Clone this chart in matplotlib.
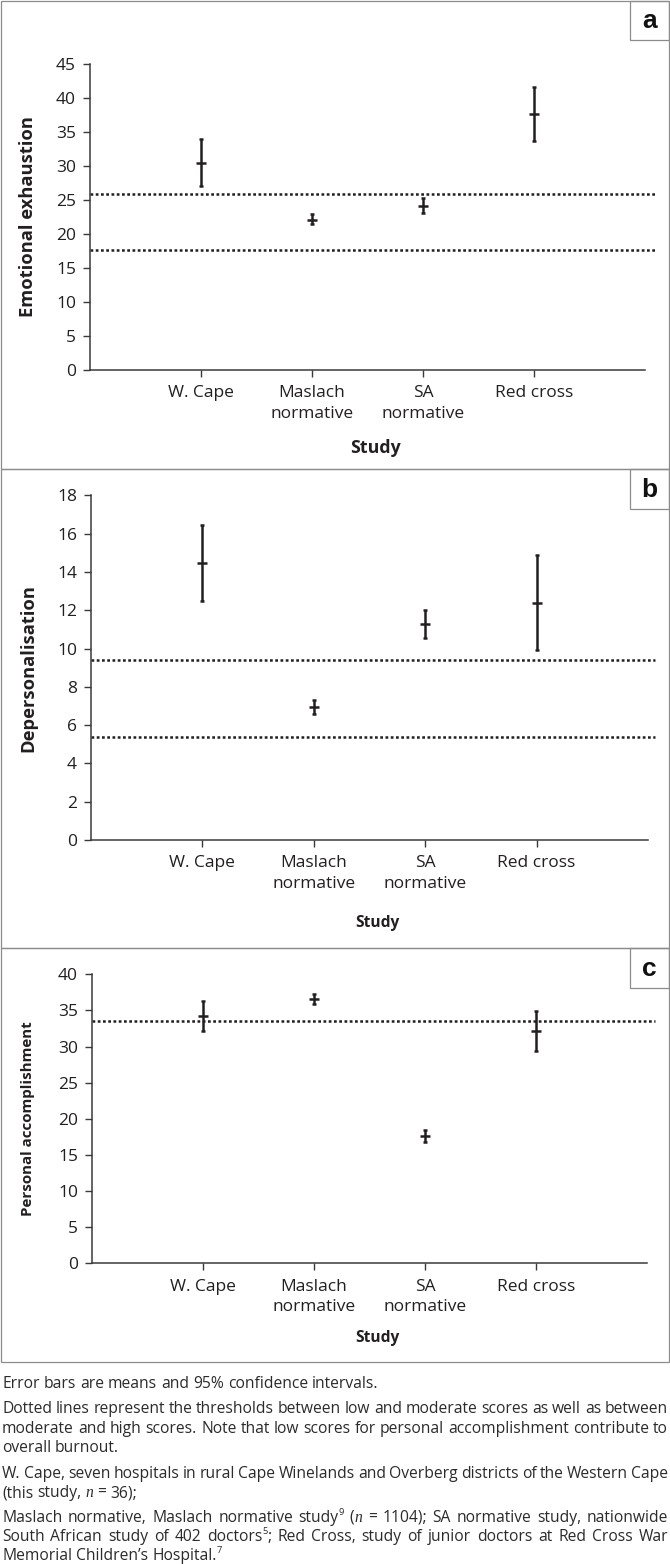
import re
import matplotlib
matplotlib.use("Agg")
import matplotlib.pyplot as plt
from matplotlib.patches import Rectangle

# ---------------- data ----------------
categories = ["W. Cape", "Maslach\nnormative", "SA\nnormative", "Red cross"]

ee_mean = [30.4, 22.1, 24.1, 37.6]
ee_low = [27.0, 21.4, 23.1, 33.6]
ee_high = [33.9, 22.9, 25.2, 41.6]
ee_thresholds = [25.9, 17.6]

dp_mean = [14.45, 6.95, 11.28, 12.39]
dp_low = [12.48, 6.6, 10.56, 9.9]
dp_high = [16.47, 7.31, 12.0, 14.87]
dp_thresholds = [9.4, 5.36]

pa_mean = [34.27, 36.6, 17.6, 32.15]
pa_low = [32.2, 35.9, 16.8, 29.4]
pa_high = [36.3, 37.3, 18.4, 34.9]
pa_thresholds = [33.5]

ylabels = ["Emotional exhaustion", "Depersonalisation", "Personal accomplishment"]
panel_letters = ["a", "b", "c"]
yticks_list = [list(range(0, 46, 5)), list(range(0, 19, 2)), list(range(0, 41, 5))]
xlabel = "Study"

footnote_lines = [
    ("Error bars are means and 95% confidence intervals.", False),
    ("Dotted lines represent the thresholds between low and moderate scores as well as between", True),
    ("moderate and high scores. Note that low scores for personal accomplishment contribute to", True),
    ("overall burnout.", False),
    ("W. Cape, seven hospitals in rural Cape Winelands and Overberg districts of the Western Cape", True),
    ("(this study, *n* = 36);", False),
    ("Maslach normative, Maslach normative study^9 (*n* = 1104); SA normative study, nationwide", True),
    ("South African study of 402 doctors^5; Red Cross, study of junior doctors at Red Cross War", True),
    ("Memorial Children\u2019s Hospital.^7", False),
]

# ---------------- layout ----------------
W, H = 670, 1564
DPI = 100
INK = "#231f20"
BORDER = "#8c8c8c"
FONT = "Open Sans"

plt.rcParams["font.family"] = [FONT, "DejaVu Sans"]

fig = plt.figure(figsize=(W / DPI, H / DPI), dpi=DPI)


def px_rect(x0, y0, x1, y1):
    return [x0 / W, 1 - y1 / H, (x1 - x0) / W, (y1 - y0) / H]


# axes boxes in pixel coords (left, top, right, bottom)
axes_px = [(90, 63.7, 645, 370), (91, 495.3, 648, 840), (92, 974.3, 647, 1263.3)]
panel_px = [(0.5, 0.5, 669, 469), (0.5, 469, 669, 948), (0.5, 948, 669, 1362)]
ylabel_sizes = [13.2, 13.2, 10.9]
xlabel_sizes = [12.8, 11.2, 11.2]

series = [
    (ee_mean, ee_low, ee_high, ee_thresholds),
    (dp_mean, dp_low, dp_high, dp_thresholds),
    (pa_mean, pa_low, pa_high, pa_thresholds),
]

for i, (mean, low, high, thr) in enumerate(series):
    l, t, r, b = axes_px[i]
    ax = fig.add_axes(px_rect(l, t, r, b))
    x = list(range(1, len(categories) + 1))
    yerr = [[m - lo for m, lo in zip(mean, low)], [hi - m for m, hi in zip(mean, high)]]
    ax.errorbar(x, mean, yerr=yerr, fmt="_", ms=7, mew=1.8, color=INK,
                ecolor=INK, elinewidth=1.8, capsize=1.7, capthick=1.8, zorder=3)
    for v in thr:
        ax.axhline(v, xmin=0, xmax=(655 - l) / (r - l), clip_on=False, color=INK,
                   lw=1.8, ls=(0, (1.1, 1.0)), zorder=2)
    ax.set_xlim(0, len(categories) + 1)
    ax.set_ylim(0, yticks_list[i][-1])
    ax.set_yticks(yticks_list[i])
    ax.set_xticks(x)
    ax.set_xticklabels(categories, linespacing=1.4)
    for s in ["top", "right"]:
        ax.spines[s].set_visible(False)
    for s in ["left", "bottom"]:
        ax.spines[s].set_color("#3a3a3a")
        ax.spines[s].set_linewidth(1.1)
    ax.tick_params(axis="both", direction="out", length=5, width=1.0, color="#3a3a3a",
                   labelsize=12.5, labelcolor=INK)
    ax.tick_params(axis="y", pad=5)
    ax.tick_params(axis="x", pad=6)
    ax.set_facecolor("none")
    # y label
    fig.text(28 / W, 1 - ((t + b) / 2) / H, ylabels[i], rotation=90, ha="center", va="center",
             fontsize=ylabel_sizes[i], fontweight="bold", color=INK)

# x labels "Study"
study_y = [448, 923, 1338]
for i, yy in enumerate(study_y):
    l, t, r, b = axes_px[i]
    fig.text(((l + r) / 2 + 8) / W, 1 - yy / H, xlabel, ha="center", va="center",
             fontsize=xlabel_sizes[i], fontweight="bold", color=INK)

# panel borders and letter boxes
for i, (x0, y0, x1, y1) in enumerate(panel_px):
    fig.add_artist(Rectangle((x0 / W, 1 - y1 / H), (x1 - x0) / W, (y1 - y0) / H,
                             transform=fig.transFigure, fill=False, ec=BORDER, lw=0.9))
    bx0, by0, bx1, by1 = 630, y0, 669, y0 + 39.5
    fig.add_artist(Rectangle((bx0 / W, 1 - by1 / H), (bx1 - bx0) / W, (by1 - by0) / H,
                             transform=fig.transFigure, fill=False, ec=BORDER, lw=0.9))
    fig.text(((bx0 + bx1) / 2) / W, 1 - ((by0 + by1) / 2 + 1) / H, panel_letters[i],
             ha="center", va="center", fontsize=19, fontweight="bold",
             family=["Liberation Sans", "DejaVu Sans"], color="#111111")

# ---------------- footnotes (justified) ----------------
renderer = fig.canvas.get_renderer()


def measure(txt, **kw):
    tt = fig.text(0, 0, txt, **kw)
    w = tt.get_window_extent(renderer=renderer).width
    tt.remove()
    return w


def parse_word(word):
    segs = []
    for part in re.split(r"(\*[^*]+\*|\^[0-9]+)", word):
        if not part:
            continue
        if part.startswith("*"):
            segs.append((part[1:-1], "it"))
        elif part.startswith("^"):
            segs.append((part[1:], "sup"))
        else:
            segs.append((part, "rm"))
    return segs


fn_size = 10.0
target = 375.0
w0 = measure(footnote_lines[0][0].replace("*", ""), fontsize=fn_size)
fn_size = fn_size * target / w0


def seg_kw(kind):
    if kind == "it":
        return dict(fontsize=fn_size, style="italic", family=["Liberation Serif", "DejaVu Serif"])
    if kind == "sup":
        return dict(fontsize=fn_size * 0.6)
    return dict(fontsize=fn_size)


space_w = measure("a a", fontsize=fn_size) - measure("aa", fontsize=fn_size)
baselines = [1388.3, 1413.3, 1432.7, 1452.3, 1478.3, 1497.3, 1521.7, 1540.7, 1560.0]
x_left, x_right = 2.0, 668.0

for (line, justify), base in zip(footnote_lines, baselines):
    words = [parse_word(w_) for w_ in line.split(" ")]
    widths = []
    for segs in words:
        widths.append([measure(s, **seg_kw(k)) for s, k in segs])
    total = sum(sum(ws) for ws in widths)
    if justify and len(words) > 1:
        gap = (x_right - x_left - total) / (len(words) - 1)
    else:
        gap = space_w
    xpos = x_left
    for segs, ws in zip(words, widths):
        for (s, k), w_ in zip(segs, ws):
            yb = base - (fn_size * DPI / 72 * 0.42 if k == "sup" else 0)
            fig.text(xpos / W, 1 - yb / H, s, ha="left", va="baseline", color="#2b2b2b",
                     **seg_kw(k))
            xpos += w_
        xpos += gap

fig.savefig("out.png", dpi=DPI, facecolor="white")
